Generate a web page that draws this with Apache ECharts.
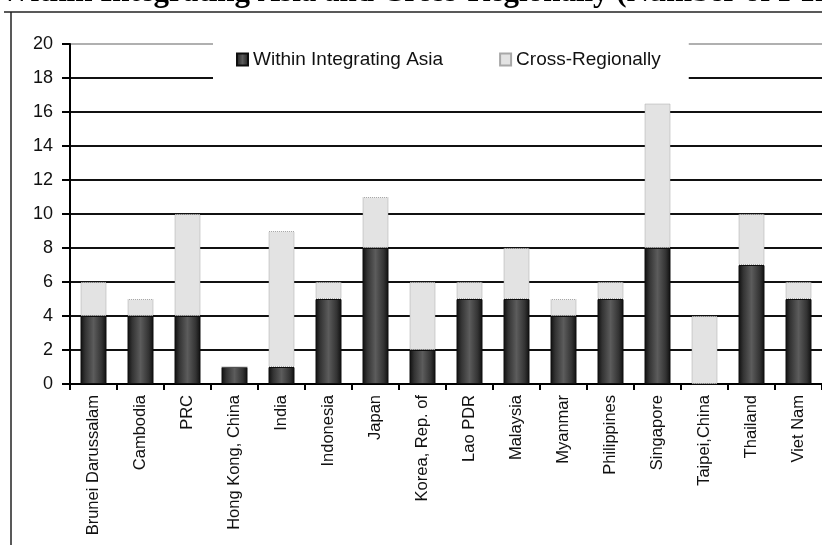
<!DOCTYPE html>
<html>
<head>
<meta charset="utf-8">
<script src="https://cdn.jsdelivr.net/npm/echarts@6/dist/echarts.min.js"></script>
<style>
  html, body { margin: 0; padding: 0; background: #fff; }
  #chart { width: 822px; height: 545px; }
</style>
</head>
<body>
<div id="chart"></div>
<script>
// Economies on the horizontal axis
const economies = [
  'Brunei Darussalam', 'Cambodia', 'PRC', 'Hong Kong, China', 'India',
  'Indonesia', 'Japan', 'Korea, Rep. of', 'Lao PDR', 'Malaysia',
  'Myanmar', 'Philippines', 'Singapore', 'Taipei,China', 'Thailand', 'Viet Nam'
];
// Number of FTAs with partners inside Integrating Asia
const withinAsia = [4, 4, 4, 1, 1, 5, 8, 2, 5, 5, 4, 5, 8, 0, 7, 5];
// Number of FTAs with partners outside the region
const crossRegional = [2, 1, 6, 0, 8, 1, 3, 4, 1, 3, 1, 1, 8.5, 4, 3, 1];
// Value axis ticks
const yTicks = { min: 0, max: 20, interval: 2 };

const seriesNames = ['Within Integrating Asia', 'Cross-Regionally'];
const titleText = 'Within Integrating Asia and Cross-Regionally (Number of FTAs)';

const sans = '"Liberation Sans", Arial, sans-serif';

const darkFill = new echarts.graphic.LinearGradient(0, 0, 1, 0, [
  { offset: 0, color: '#0e0e0e' },
  { offset: 0.18, color: '#333333' },
  { offset: 0.5, color: '#5c5c5c' },
  { offset: 0.82, color: '#333333' },
  { offset: 1, color: '#0e0e0e' }
]);

// Grid lines: the topmost one is drawn faint
const splitColors = [];
for (let v = yTicks.min; v <= yTicks.max; v += yTicks.interval) {
  splitColors.push(v === yTicks.max ? '#b0b0b0' : '#111');
}

const chart = echarts.init(document.getElementById('chart'));
chart.setOption({
  animation: false,
  backgroundColor: '#fff',
  grid: { left: 70, right: 0, top: 44, bottom: 161, containLabel: false },
  legend: {
    data: seriesNames,
    left: 213,
    top: 38,
    padding: [12, 28, 17, 23],
    backgroundColor: '#fff',
    itemWidth: 11,
    itemHeight: 12,
    itemGap: 56,
    textStyle: { fontFamily: sans, fontSize: 19, color: '#111' },
    icon: 'rect',
    z: 10
  },
  xAxis: {
    type: 'category',
    data: economies,
    axisLine: { lineStyle: { color: '#000', width: 2 } },
    axisTick: { show: true, length: 6, lineStyle: { color: '#000', width: 2 } },
    axisLabel: {
      rotate: 90,
      interval: 0,
      margin: 11,
      fontFamily: sans,
      fontSize: 16.5,
      color: '#111'
    },
    splitLine: { show: false }
  },
  yAxis: {
    type: 'value',
    min: yTicks.min,
    max: yTicks.max,
    interval: yTicks.interval,
    axisLine: { show: true, lineStyle: { color: '#000', width: 2 } },
    axisTick: { show: true, length: 8, lineStyle: { color: '#000', width: 2 } },
    axisLabel: { margin: 17, fontFamily: sans, fontSize: 18, color: '#111' },
    splitLine: { show: true, lineStyle: { color: splitColors, width: 2 } }
  },
  series: [
    {
      name: seriesNames[0],
      type: 'bar',
      stack: 'fta',
      barWidth: 26,
      data: withinAsia,
      itemStyle: { color: darkFill, borderColor: '#0e0e0e', borderWidth: 1 }
    },
    {
      name: seriesNames[1],
      type: 'bar',
      stack: 'fta',
      barWidth: 26,
      data: crossRegional,
      itemStyle: {
        color: '#e3e3e3',
        borderColor: '#a8a8a8',
        borderWidth: 1,
        borderType: 'dotted'
      }
    }
  ],
  graphic: [
    {
      type: 'text',
      x: 0,
      y: -7,
      silent: true,
      style: {
        text: titleText,
        font: 'bold 31px "Liberation Serif", "Times New Roman", serif',
        fill: '#000',
        align: 'left',
        verticalAlign: 'middle'
      }
    },
    {
      type: 'line',
      silent: true,
      shape: { x1: 4, y1: 12, x2: 822, y2: 12 },
      style: { stroke: '#222', lineWidth: 1.5 }
    },
    {
      type: 'line',
      silent: true,
      shape: { x1: 11, y1: 12, x2: 11, y2: 545 },
      style: { stroke: '#222', lineWidth: 1.5 }
    }
  ]
});
</script>
</body>
</html>
